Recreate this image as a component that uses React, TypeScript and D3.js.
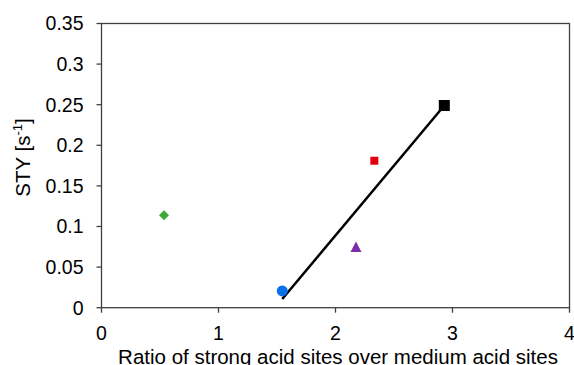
import React from "react";
import * as d3 from "d3";

const xTicks = [0, 1, 2, 3, 4];
const yTicks = [0, 0.05, 0.1, 0.15, 0.2, 0.25, 0.3, 0.35];

const points = [
  { name: "green", x: 0.534, y: 0.114, shape: "diamond", color: "#3aaa35" },
  { name: "blue", x: 1.545, y: 0.0206, shape: "circle", color: "#0a6fe8" },
  { name: "purple", x: 2.175, y: 0.074, shape: "triangle", color: "#7b2fa6" },
  { name: "red", x: 2.332, y: 0.181, shape: "square", color: "#e0000f" },
  { name: "black", x: 2.93, y: 0.249, shape: "squareBig", color: "#000000" },
];

const lineX = [1.545, 2.93];
const lineY = [0.0107, 0.249];

const W = 574;
const H = 365;
const left = 101.5;
const right = 569.5;
const top = 23.5;
const bottom = 307.7;

export default function App() {
  const x = d3.scaleLinear().domain([0, 4]).range([left, right]);
  const y = d3.scaleLinear().domain([0, 0.35]).range([bottom, top]);
  const line = d3
    .line<number>()
    .x((_, i) => x(lineX[i]))
    .y((d) => y(d));
  const font = "'Liberation Sans', Arial, sans-serif";
  const axisColor = "#404040";

  const marker = (p: typeof points[number]) => {
    const cx = x(p.x);
    const cy = y(p.y);
    if (p.shape === "circle") return <circle key={p.name} cx={cx} cy={cy} r={5.5} fill={p.color} />;
    if (p.shape === "square") return <rect key={p.name} x={cx - 4} y={cy - 4} width={8} height={8} fill={p.color} />;
    if (p.shape === "squareBig") return <rect key={p.name} x={cx - 5.5} y={cy - 5.5} width={11} height={11} fill={p.color} />;
    if (p.shape === "triangle")
      return <path key={p.name} d={`M${cx},${cy - 6} L${cx + 5.5},${cy + 4.5} L${cx - 5.5},${cy + 4.5} Z`} fill={p.color} />;
    return <path key={p.name} d={`M${cx},${cy - 5} L${cx + 5},${cy} L${cx},${cy + 5} L${cx - 5},${cy} Z`} fill={p.color} />;
  };

  return (
    <svg width={W} height={H} style={{ position: "absolute", left: 0, top: 0 }} fontFamily={font}>
      <rect x={0} y={0} width={W} height={H} fill="#fff" />
      <rect x={left} y={top} width={right - left} height={bottom - top} fill="none" stroke={axisColor} strokeWidth={1.3} />
      {yTicks.map((t) => (
        <g key={"y" + t}>
          <line x1={left - 5} x2={left} y1={y(t)} y2={y(t)} stroke={axisColor} strokeWidth={1.3} />
          <text x={83.5} y={y(t)} dy="0.35em" textAnchor="end" fontSize={19.5} fill="#000">
            {String(t)}
          </text>
        </g>
      ))}
      {xTicks.map((t) => (
        <g key={"x" + t}>
          <line x1={x(t)} x2={x(t)} y1={bottom} y2={bottom + 5} stroke={axisColor} strokeWidth={1.3} />
          <text x={x(t)} y={339.5} textAnchor="middle" fontSize={19.5} fill="#000">
            {String(t)}
          </text>
        </g>
      ))}
      <path d={line(lineY) || ""} fill="none" stroke="#000" strokeWidth={2.5} />
      {points.map(marker)}
      <text x={338} y={363.5} textAnchor="middle" fontSize={20.5} fill="#000">
        Ratio of strong acid sites over medium acid sites
      </text>
      <text transform={`translate(29.5,157.5) rotate(-90)`} textAnchor="middle" fontSize={20.5} fill="#000">
        STY [s<tspan dy={-8} fontSize={13}>-1</tspan>
        <tspan dy={8}>]</tspan>
      </text>
    </svg>
  );
}
